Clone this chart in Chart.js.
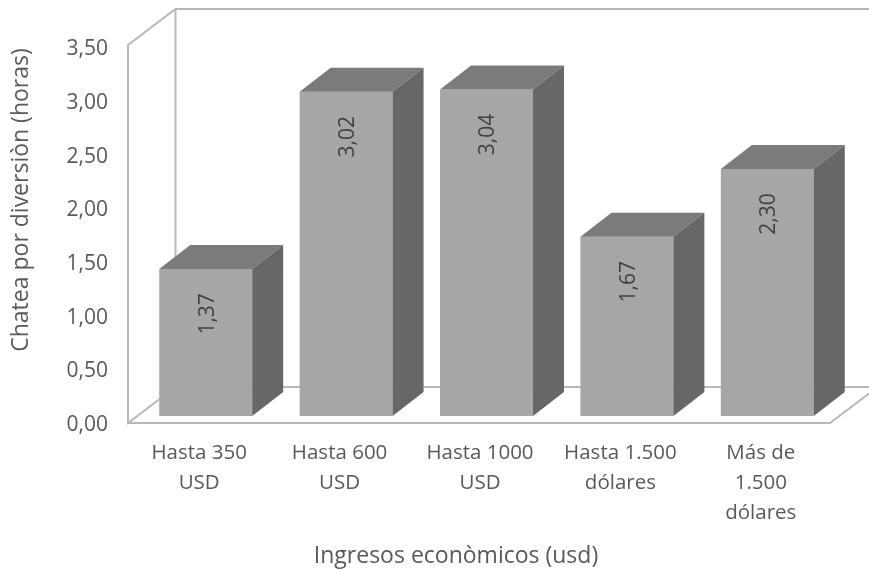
<!DOCTYPE html>
<html>
<head>
<meta charset="utf-8">
<title>Chatea por diversión</title>
<script src="https://cdn.jsdelivr.net/npm/chart.js@4"></script>
<style>
    html, body { margin: 0; padding: 0; background: #fff; overflow: hidden; }
    canvas { display: block; }
</style>
</head>
<body>
<canvas id="barChart" width="869" height="572"></canvas>
<script>
// Data
const categories = [
    ['Hasta 350', 'USD'],
    ['Hasta 600', 'USD'],
    ['Hasta 1000', 'USD'],
    ['Hasta 1.500', 'dólares'],
    ['Más de', '1.500', 'dólares']
];
const hours = [1.37, 3.02, 3.04, 1.67, 2.30];
const yTicks = [0, 0.5, 1, 1.5, 2, 2.5, 3, 3.5];
const xTitle = 'Ingresos econòmicos (usd)';
const yTitle = 'Chatea por diversiòn (horas)';

const FONT = '"Open Sans", sans-serif';
const TEXT = '#595959';
const WALL = '#b8b8b8';

// Depth of the fake 3D box and of each column
const wallDx = 47.5, wallDy = -36;
const barDx = 31, barDy = -24;
// Columns stand a little behind the front edge of the floor
const standDx = 7.5, standDy = -7;

const comma = v => v.toFixed(2).replace('.', ',');

function poly(ctx, pts, fill) {
    ctx.beginPath();
    pts.forEach((p, i) => i ? ctx.lineTo(p[0], p[1]) : ctx.moveTo(p[0], p[1]));
    ctx.closePath();
    ctx.fillStyle = fill;
    ctx.fill();
}

const box3d = {
    id: 'box3d',
    beforeDatasetsDraw(chart) {
        const { ctx, chartArea: a } = chart;

        // Side wall, back wall and floor
        ctx.save();
        ctx.strokeStyle = WALL;
        ctx.lineWidth = 2;
        ctx.beginPath();
        ctx.moveTo(a.left + wallDx, a.bottom + wallDy);
        ctx.lineTo(a.left, a.bottom);
        ctx.lineTo(a.left, a.top);
        ctx.lineTo(a.left + wallDx, a.top + wallDy);
        ctx.lineTo(a.right + wallDx, a.top + wallDy);
        ctx.moveTo(a.left + wallDx, a.top + wallDy);
        ctx.lineTo(a.left + wallDx, a.bottom + wallDy);
        ctx.lineTo(a.right + wallDx, a.bottom + wallDy);
        ctx.lineTo(a.right, a.bottom);
        ctx.lineTo(a.left, a.bottom);
        ctx.stroke();
        ctx.restore();

        // Shift the columns back onto the floor
        ctx.save();
        ctx.translate(standDx, standDy);
    },
    afterDatasetsDraw(chart) {
        const { ctx } = chart;
        chart.getDatasetMeta(0).data.forEach((bar, i) => {
            const half = bar.width / 2;
            const l = bar.x - half, r = bar.x + half;

            poly(ctx, [[l, bar.y], [l + barDx, bar.y + barDy], [r + barDx, bar.y + barDy], [r, bar.y]], '#7b7b7b');
            poly(ctx, [[r, bar.y], [r + barDx, bar.y + barDy], [r + barDx, bar.base + barDy], [r, bar.base]], '#676767');

            // Value label, rotated, near the top of the front face
            ctx.save();
            ctx.translate(bar.x + 2, bar.y + 45);
            ctx.rotate(-Math.PI / 2);
            ctx.font = '21px ' + FONT;
            ctx.fillStyle = '#404040';
            ctx.textAlign = 'center';
            ctx.textBaseline = 'middle';
            ctx.fillText(comma(hours[i]), 0, 0);
            ctx.restore();
        });
        ctx.restore();
    },
    afterDraw(chart) {
        // Axis titles sit off-centre relative to the plot area
        const { ctx } = chart;
        ctx.save();
        ctx.font = '23px ' + FONT;
        ctx.fillStyle = TEXT;
        ctx.textAlign = 'center';
        ctx.textBaseline = 'middle';
        ctx.fillText(xTitle, 456, 556);
        ctx.translate(21, 200);
        ctx.rotate(-Math.PI / 2);
        ctx.fillText(yTitle, 0, 0);
        ctx.restore();
    }
};

new Chart(document.getElementById('barChart'), {
    type: 'bar',
    data: {
        labels: categories,
        datasets: [{
            data: hours,
            backgroundColor: '#a6a6a6',
            borderWidth: 0,
            barPercentage: 0.662,
            categoryPercentage: 1
        }]
    },
    options: {
        responsive: false,
        animation: false,
        layout: { padding: { left: 0, right: 39, top: 45, bottom: 2 } },
        plugins: { legend: { display: false }, tooltip: { enabled: false } },
        scales: {
            x: {
                grid: { display: false, drawTicks: false },
                border: { display: false },
                ticks: {
                    color: TEXT,
                    font: { family: FONT, size: 20.5, lineHeight: 1.46 },
                    padding: 15,
                    labelOffset: 1,
                    maxRotation: 0,
                    autoSkip: false
                },
                afterFit(scale) { scale.height = 147; }
            },
            y: {
                min: 0,
                max: 3.52,
                afterBuildTicks(scale) { scale.ticks = yTicks.map(value => ({ value })); },
                grid: { display: false, drawTicks: false },
                border: { display: false },
                ticks: { color: TEXT, font: { family: FONT, size: 21 }, padding: 20, labelOffset: 2, callback: v => comma(v) },
                afterFit(scale) { scale.width = 128; }
            }
        }
    },
    plugins: [box3d]
});
</script>
</body>
</html>
